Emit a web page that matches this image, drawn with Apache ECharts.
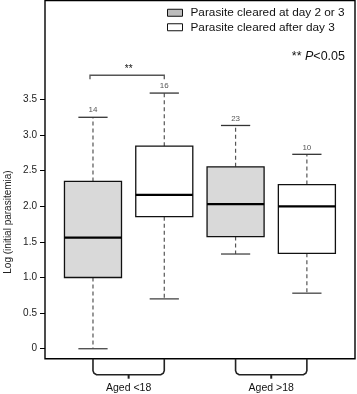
<!DOCTYPE html>
<html><head><meta charset="utf-8">
<script src="https://cdn.jsdelivr.net/npm/echarts@6/dist/echarts.min.js"></script>
<style>html,body{margin:0;padding:0;background:#fff}#c{width:357px;height:394px}</style>
</head><body><div id="c"></div>
<script>
// ---- data ----
const categories = ['Aged <18', 'Aged >18'];
const groupNames = ['Parasite cleared at day 2 or 3', 'Parasite cleared after day 3'];
// [min, Q1, median, Q3, max]
const earlyStats = [[0.00, 1.00, 1.56, 2.35, 3.25], [1.33, 1.575, 2.03, 2.555, 3.135]];
const lateStats  = [[0.70, 1.855, 2.16, 2.845, 3.59], [0.78, 1.34, 2.00, 2.305, 2.73]];
const earlyN = [14, 23];
const lateN  = [16, 10];
const yTicks = [0, 0.5, 1.0, 1.5, 2.0, 2.5, 3.0, 3.5];
const sigPairs = [[1, 2]];
const sigLevels = [3.84];
const sigLabels = ['**'];
const yTitle = 'Log (initial parasitemia)';

const FONT = '"Liberation Sans", Arial, Helvetica, sans-serif';
const Y_MIN = -0.14, Y_MAX = 4.89;

const earlyData = earlyStats.map((s, i) => [i * 2 + 1].concat(s, [earlyN[i]]));
const lateData = lateStats.map((s, i) => [i * 2 + 2].concat(s, [lateN[i]]));

function boxRender(params, api) {
  const x = api.value(0);
  const vals = [1, 2, 3, 4, 5].map(i => api.value(i));
  const n = api.value(6);
  const pts = vals.map(v => api.coord([x, v]));
  const cx = pts[0][0];
  const ys = pts.map(p => p[1]);
  const bw = api.size([0.8, 0])[0];
  const cw = api.size([0.41, 0])[0];
  const fill = api.visual('color');
  const dash = { stroke: '#555', lineWidth: 1.2, lineDash: [4, 3] };
  return {
    type: 'group',
    children: [
      { type: 'line', shape: { x1: cx, y1: ys[3], x2: cx, y2: ys[4] }, style: dash },
      { type: 'line', shape: { x1: cx, y1: ys[1], x2: cx, y2: ys[0] }, style: dash },
      { type: 'line', shape: { x1: cx - cw / 2, y1: ys[4], x2: cx + cw / 2, y2: ys[4] }, style: { stroke: '#333', lineWidth: 1.3 } },
      { type: 'line', shape: { x1: cx - cw / 2, y1: ys[0], x2: cx + cw / 2, y2: ys[0] }, style: { stroke: '#444', lineWidth: 1.3 } },
      { type: 'rect', shape: { x: cx - bw / 2, y: ys[3], width: bw, height: ys[1] - ys[3] }, style: { fill: fill, stroke: '#111', lineWidth: 1.3 } },
      { type: 'line', shape: { x1: cx - bw / 2, y1: ys[2], x2: cx + bw / 2, y2: ys[2] }, style: { stroke: '#000', lineWidth: 2.2 } },
      { type: 'text', x: cx, y: ys[4] - 3, style: { text: String(n), align: 'center', verticalAlign: 'bottom', fontSize: 8, fontFamily: FONT, fill: '#555' } }
    ]
  };
}

const chart = echarts.init(document.getElementById('c'), null, { renderer: 'canvas' });
chart.setOption({
  animation: false,
  backgroundColor: '#fff',
  textStyle: { fontFamily: FONT },
  grid: { left: 45, right: 2, top: 0.5, bottom: 35.3, show: true, borderColor: '#000', borderWidth: 1.4, backgroundColor: 'transparent' },
  legend: {
    left: 167, top: 5.5, padding: 0, orient: 'vertical', itemWidth: 15, itemHeight: 7, itemGap: 0, selectedMode: false, icon: 'rect',
    textStyle: { fontSize: 11.8, color: '#111', fontFamily: FONT, lineHeight: 14.5, padding: [0, 0, 0, 3] },
    data: [
      { name: groupNames[0], itemStyle: { color: '#bdbdbd', borderColor: '#111', borderWidth: 1 } },
      { name: groupNames[1], itemStyle: { color: '#fff', borderColor: '#111', borderWidth: 1 } }
    ]
  },
  xAxis: { type: 'value', min: 0.327, max: 4.675, show: false },
  yAxis: {
    type: 'value', min: Y_MIN, max: Y_MAX,
    axisLine: { show: false },
    splitLine: { show: false },
    axisTick: { show: true, length: 5, customValues: yTicks, lineStyle: { color: '#000', width: 1 } },
    axisLabel: { customValues: yTicks, fontSize: 10, color: '#222', margin: 8, fontFamily: FONT,
      formatter: v => (v === 0 ? '0' : v.toFixed(1)) }
  },
  graphic: [
    { type: 'text', right: 12, top: 50, style: { text: '{a|** }{b|P}{a|<0.05}', rich: { a: { fontSize: 12.5, fontFamily: FONT, fill: '#111' }, b: { fontSize: 12.5, fontStyle: 'italic', fontFamily: FONT, fill: '#111' } } } },
    { type: 'text', x: 8, y: 222, rotation: Math.PI / 2, style: { text: yTitle, align: 'center', verticalAlign: 'middle', fontSize: 10, fontFamily: FONT, fill: '#222' } }
  ],
  series: [
    { name: groupNames[0], type: 'custom', itemStyle: { color: '#d9d9d9' }, renderItem: boxRender, data: earlyData, encode: { x: 0, y: [1, 2, 3, 4, 5] } },
    { name: groupNames[1], type: 'custom', itemStyle: { color: '#ffffff' }, renderItem: boxRender, data: lateData, encode: { x: 0, y: [1, 2, 3, 4, 5] } },
    {
      type: 'custom', clip: false, silent: true,
      data: sigPairs.map((p, i) => [p[0], p[1], sigLevels[i], i]),
      renderItem: function (params, api) {
        const a = api.coord([api.value(0), api.value(2)]);
        const b = api.coord([api.value(1), api.value(2)]);
        const lab = sigLabels[api.value(3)];
        return { type: 'group', children: [
          { type: 'polyline', shape: { points: [[a[0] - 3, a[1] + 4], [a[0] - 3, a[1]], [b[0], a[1]], [b[0], a[1] + 4]] }, style: { stroke: '#555', lineWidth: 1.3, fill: null } },
          { type: 'text', x: (a[0] + b[0]) / 2, y: a[1] - 1, style: { text: lab, align: 'center', verticalAlign: 'bottom', fontSize: 10, fontFamily: FONT, fill: '#111' } }
        ] };
      }
    },
    {
      type: 'custom', clip: false, silent: true,
      data: categories.map((c, i) => [i * 2 + 1, i * 2 + 2, i]),
      renderItem: function (params, api) {
        const a = api.coord([api.value(0), Y_MIN]);
        const b = api.coord([api.value(1), Y_MIN]);
        const y0 = a[1];
        const x1 = a[0], x2 = b[0], mx = (x1 + x2) / 2;
        return { type: 'group', children: [
          { type: 'polyline', shape: { points: [[x1, y0], [x1, y0 + 12], [x1 + 1, y0 + 14.5], [x1 + 3.5, y0 + 16], [x2 - 3.5, y0 + 16], [x2 - 1, y0 + 14.5], [x2, y0 + 12], [x2, y0]] }, style: { stroke: '#222', lineWidth: 1.6, fill: null } },
          { type: 'line', shape: { x1: mx, y1: y0 + 16, x2: mx, y2: y0 + 20 }, style: { stroke: '#222', lineWidth: 2 } },
          { type: 'text', x: mx, y: y0 + 29.5, style: { text: categories[api.value(2)], align: 'center', verticalAlign: 'middle', fontSize: 10.5, fontFamily: FONT, fill: '#111' } }
        ] };
      }
    }
  ]
});
</script>
</body></html>
